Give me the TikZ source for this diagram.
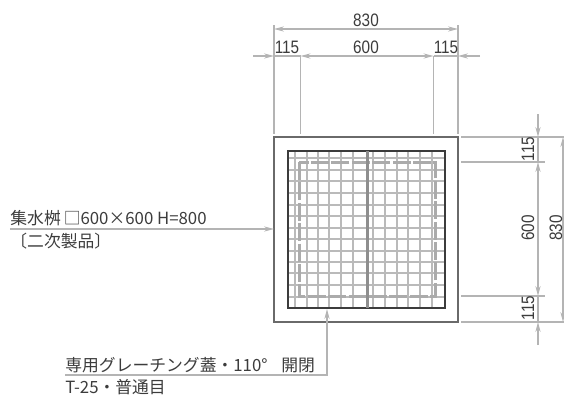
\documentclass[tikz,border=0pt]{standalone}
\usepackage{fontspec}
\setmainfont{Noto Sans CJK JP}
\newfontfamily\dimfont[FakeStretch=0.85]{Liberation Sans}
\usetikzlibrary{arrows.meta, positioning, calc}
\definecolor{dimgray}{HTML}{B4B4B4}
\definecolor{gridgray}{HTML}{BABABA}
\definecolor{dashgray}{HTML}{ABABAB}
\definecolor{bargray}{HTML}{8E8E8E}
\definecolor{rimgray}{HTML}{6A6A6A}
\definecolor{inkgray}{HTML}{3C3C3C}
\tikzset{
  dimline/.style={draw=dimgray, line width=0.55pt, {Stealth[length=5pt,width=2.6pt,open]}-{Stealth[length=5pt,width=2.6pt,open]}},
  outline/.style={draw=dimgray, line width=0.55pt},
  leader/.style={draw=dimgray, line width=0.6pt, -{Stealth[length=5pt,width=2.6pt,open]}},
  dimtext/.style={font=\dimfont\fontsize{9}{9}\selectfont, text=inkgray, inner sep=0pt},
  notetext/.style={font=\fontsize{8.4}{9}\selectfont, text=inkgray, inner sep=0pt, anchor=west},
}
\begin{document}
\begin{tikzpicture}[x=0.5pt, y=-0.5pt]
  \useasboundingbox (0,0) rectangle (564,397);

  % Outer frame and grating
  \draw[draw=rimgray, line width=0.6pt] (274,137) rectangle (458,322);
  \foreach \gx in {295,307,318,329,341,353,373,385,397,408,420,432}
    \draw[gridgray, line width=0.65pt] (\gx,151) -- (\gx,308);
  \foreach \gy in {158,170,181,193,205,216,228,239,251,262,273,285,297}
    \draw[gridgray, line width=0.65pt] (288,\gy) -- (445,\gy);
  \draw[dashgray, line width=1.5pt, dash pattern=on 9pt off 1.2pt] (299,162) rectangle (435,296);
  \draw[draw=inkgray, line width=0.8pt] (288,151) rectangle (445,308);
  \draw[bargray, line width=1.5pt] (367,151) -- (367,308);

  % Top dimensions
  \coordinate (topA) at (274,29);
  \coordinate (topB) at (458,29);
  \coordinate (midL) at (253,56);
  \coordinate (midA) at (274,56);
  \coordinate (midB) at (300.5,56);
  \coordinate (midC) at (433.5,56);
  \coordinate (midD) at (458,56);
  \coordinate (midR) at (480,56);
  \draw[outline] (274,25) -- (274,134);
  \draw[outline] (458,25) -- (458,134);
  \draw[outline] (300.5,56) -- (300.5,134);
  \draw[outline] (433.5,56) -- (433.5,134);
  \draw[dimline] (topA) -- (topB);
  \draw[dimline] (midB) -- (midC);
  \draw[leader] (midL) -- (midA);
  \draw[leader] (midR) -- (midD);
  \draw[outline] (midA) -- (midB);
  \draw[outline] (midC) -- (midD);
  \node[dimtext] (topall) at (366,20) {830};
  \node[dimtext] (topleft) at (287,47) {115};
  \node[dimtext] (topmid) at (366,47) {600};
  \node[dimtext] (topright) at (446,47) {115};

  % Right dimensions
  \draw[outline] (461,137) -- (564,137);
  \draw[outline] (461,322) -- (564,322);
  \draw[outline] (461,162) -- (545,162);
  \draw[outline] (461,296) -- (545,296);
  \coordinate (sideT) at (538,114);
  \coordinate (sideA) at (538,137);
  \coordinate (sideB) at (538,162);
  \coordinate (sideC) at (538,296);
  \coordinate (sideD) at (538,322);
  \coordinate (sideE) at (538,345);
  \coordinate (farA) at (563,137);
  \coordinate (farB) at (563,322);
  \draw[dimline] (sideB) -- (sideC);
  \draw[leader] (sideT) -- (sideA);
  \draw[leader] (sideE) -- (sideD);
  \draw[outline] (sideA) -- (sideB);
  \draw[outline] (sideC) -- (sideD);
  \draw[dimline] (farA) -- (farB);
  \node[dimtext, rotate=90] (sidetop) at (528,149) {115};
  \node[dimtext, rotate=90] (sidemid) at (528,228) {600};
  \node[dimtext, rotate=90] (sidebot) at (528,308) {115};
  \node[dimtext, rotate=90] (sideall) at (556,228) {830};

  % Notes
  \node[notetext] (pitA) at (10,218) {集水桝\hspace{1.5pt}□600×600 H=800};
  \node[notetext] (pitB) at (10,241) {〔二次製品〕};
  \coordinate (pitS) at (10,229);
  \coordinate (pitE) at (274,229);
  \draw[leader] (pitS) -- (pitE);
  \node[notetext] (lidA) at (65,365) {専用グレーチング蓋・110°\hspace{5pt} 開閉};
  \node[notetext] (lidB) at (65,387) {T-25・普通目};
  \coordinate (lidS) at (65,375);
  \coordinate (lidC) at (327,375);
  \coordinate (lidE) at (327,309);
  \draw[leader] (lidS) -- (lidC) -- (lidE);
\end{tikzpicture}
\end{document}
